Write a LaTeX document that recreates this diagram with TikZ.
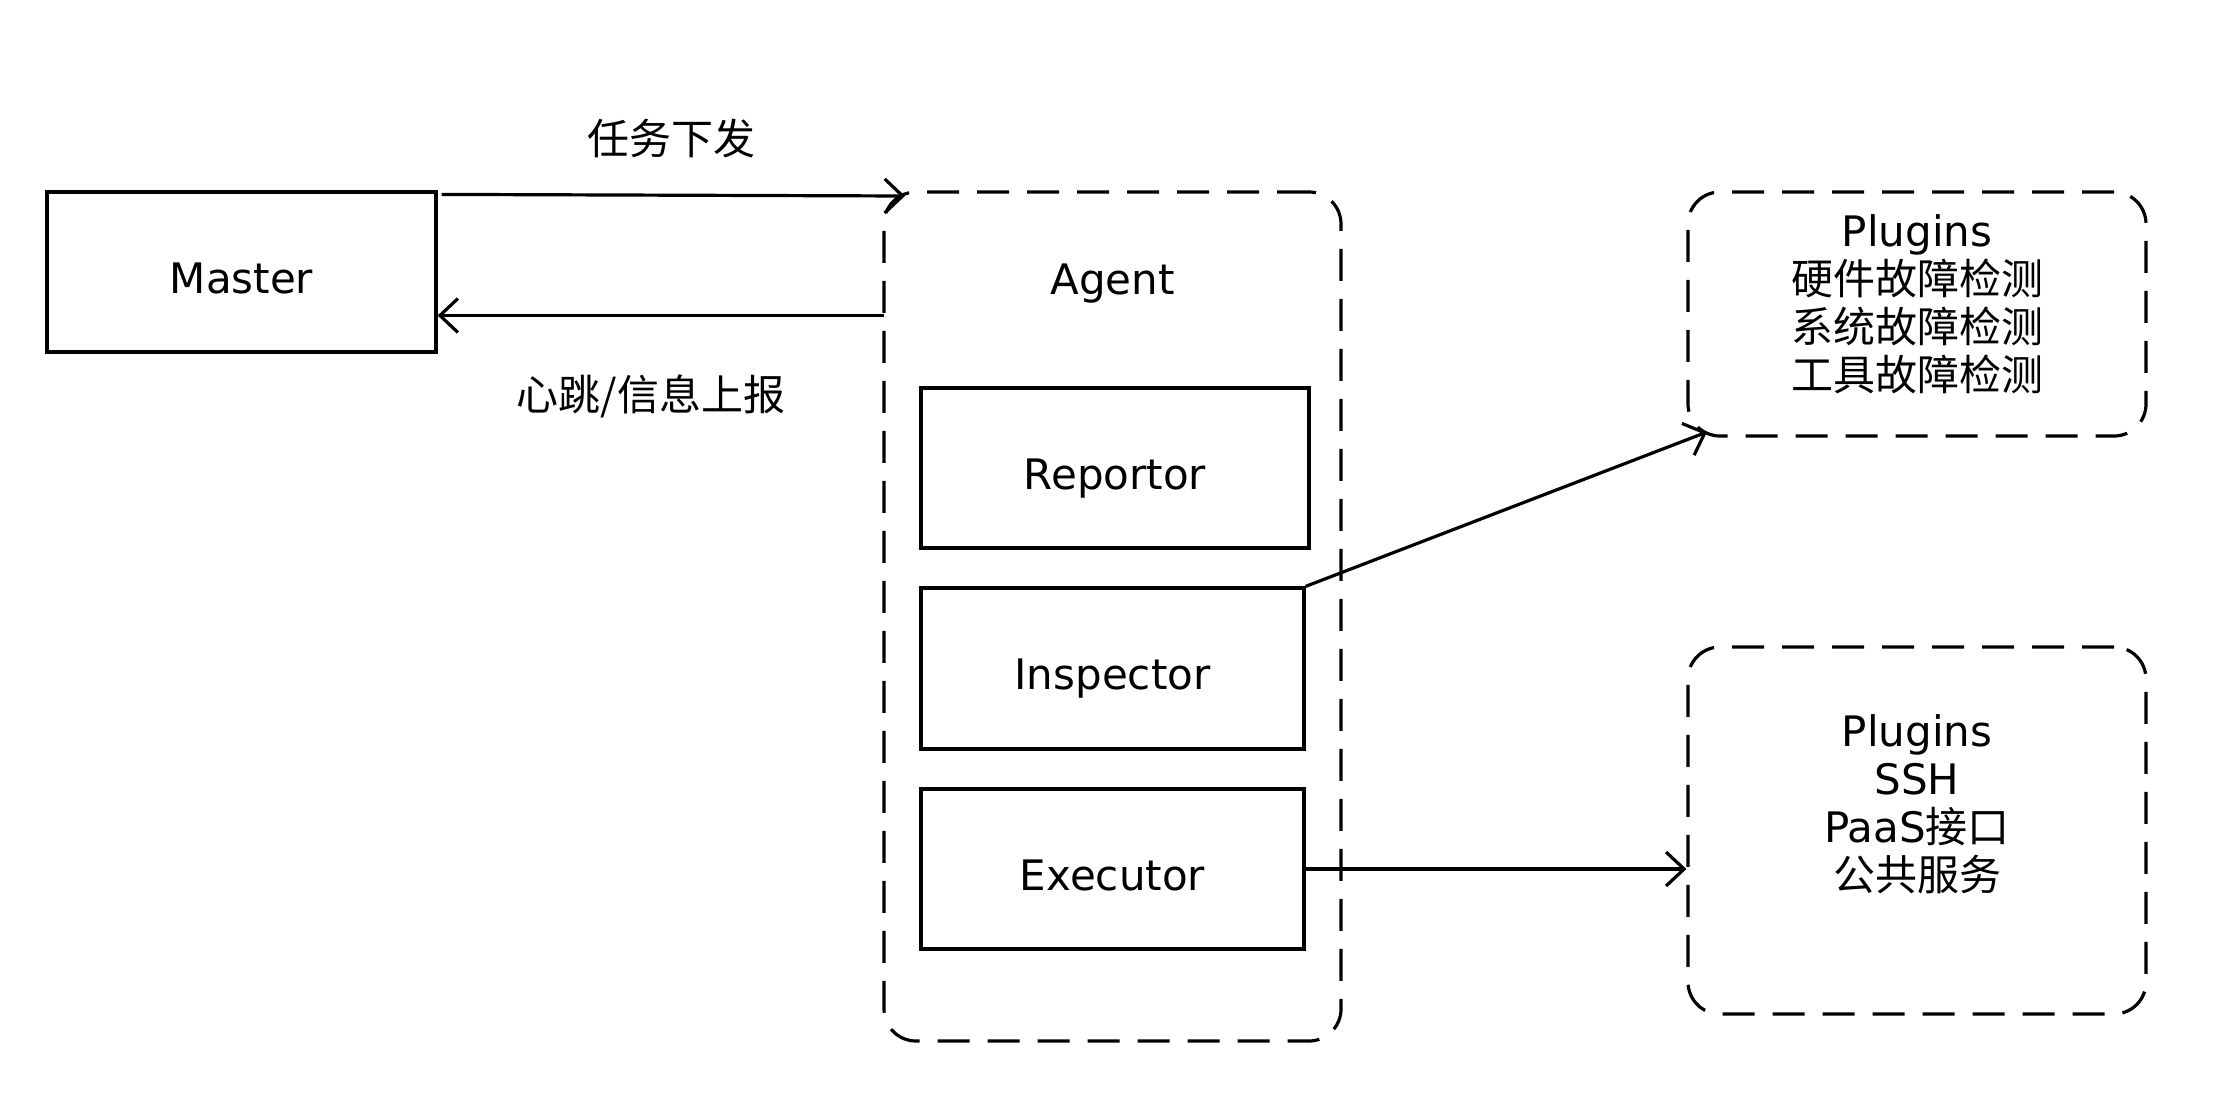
\documentclass[tikz,border=0pt]{standalone}
\usepackage{fontspec}
\setmainfont{DejaVu Sans}
\newfontfamily\cjk{Noto Sans CJK SC}
\usetikzlibrary{arrows.meta}
\begin{document}
\begin{tikzpicture}[x=0.5pt,y=-0.5pt,
  font=\fontsize{21pt}{24pt}\selectfont,
  solidbox/.style={draw, line width=1.6pt, inner sep=0pt, text height=21pt, text depth=0pt},
  dashbox/.style={draw, line width=1.6pt, dash pattern=on 16pt off 9pt, rounded corners=16pt, inner sep=0pt},
  lbl/.style={inner sep=0pt, align=center},
  arr/.style={line width=1.6pt, -{Straight Barb[length=9pt,width=17pt,line width=1.6pt]}}
]
\useasboundingbox (0,0) rectangle (2228,1108);
% Master
\node[solidbox, minimum width=194.5pt, minimum height=80pt] (master) at (241.5,272) {Master};
% Agent container
\node[dashbox, minimum width=228.5pt, minimum height=424.5pt] (agent) at (1112.5,616.5) {};
\node[lbl, anchor=base] (agentlbl) at (1112.5,294) {Agent};
\node[solidbox, minimum width=194pt, minimum height=80pt] (rep) at (1115,468) {Reportor};
\node[solidbox, minimum width=191.5pt, minimum height=80.5pt] (ins) at (1112.5,668.5) {Inspector};
\node[solidbox, minimum width=191.5pt, minimum height=80pt] (exe) at (1112.5,869) {Executor};
% Plugins boxes
\node[dashbox, minimum width=229pt, minimum height=122pt] (p1) at (1917,314) {};
\node[lbl] (p1lbl) at (1917,304) {Plugins\\{\cjk 硬件故障检测}\\{\cjk 系统故障检测}\\{\cjk 工具故障检测}};
\node[dashbox, minimum width=229pt, minimum height=183.5pt] (p2) at (1917,830.5) {};
\node[lbl] (p2lbl) at (1917,804) {Plugins\\SSH\\PaaS{\cjk 接口}\\{\cjk 公共服务}};
% Connectors
\coordinate (ta) at (905,196);
\draw[arr] ([xshift=2pt,yshift=-2pt]master.north east) -- (ta);
\coordinate (ba) at (884,315.5);
\draw[arr] (ba) -- (ba -| master.east);
\node[lbl] (l1) at (671,139) {\cjk 任务下发};
\node[lbl] (l2) at (651,396) {\cjk 心跳/信息上报};
\coordinate (p1in) at (1707,432);
\draw[arr] (ins.north east) -- (p1in);
\draw[arr] (exe.east) -- (exe.east -| p2.west);
\end{tikzpicture}
\end{document}
